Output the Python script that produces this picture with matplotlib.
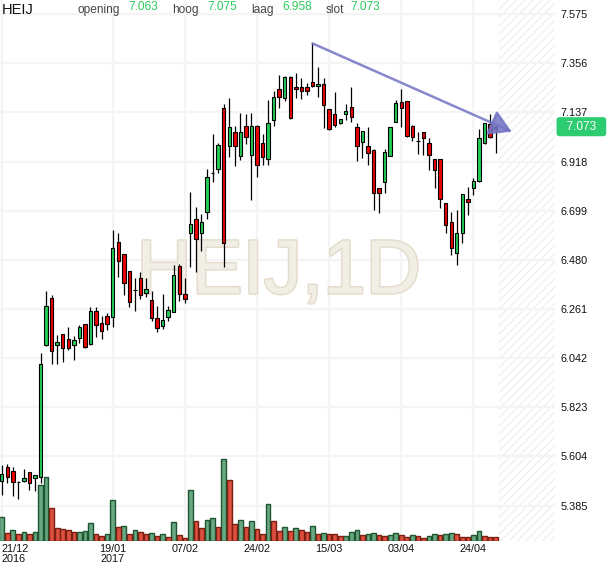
import matplotlib
matplotlib.use('Agg')
import matplotlib.pyplot as plt
import numpy as np
import pandas as pd
import matplotlib.patheffects as pe
from matplotlib.transforms import blended_transform_factory

# ---------------- data ----------------
symbol = 'HEIJ'
interval = '1D'
holidays = ['2016-12-26', '2017-04-14', '2017-04-17']
dates = pd.bdate_range('2016-12-21', '2017-04-28', freq='C', holidays=holidays)

opens = [5.496, 5.559, 5.538, 5.492, 5.496, 5.534, 5.507, 5.514, 6.099, 6.309,
         6.099, 6.148, 6.126, 6.099, 6.131, 6.193, 6.104, 6.251, 6.199, 6.229,
         6.227, 6.558, 6.505, 6.430, 6.346, 6.398, 6.331, 6.301, 6.220, 6.187,
         6.227, 6.249, 6.453, 6.327, 6.598, 6.661, 6.598, 6.694, 6.868, 6.883,
         7.155, 6.988, 7.048, 6.944, 7.077, 6.947, 7.077, 6.999, 6.929, 7.103,
         7.240, 7.200, 7.296, 7.249, 7.249, 7.249, 7.273, 7.254, 7.262, 7.151,
         7.128, 7.088, 7.128, 7.159, 7.070, 7.006, 6.987, 6.969, 6.799, 6.825,
         6.943, 7.095, 7.182, 7.186, 7.077, 7.010, 7.048, 6.999, 6.929, 6.929,
         6.732, 6.650, 6.509, 6.598, 6.751, 6.799, 6.829, 6.999, 7.085, 7.063]
highs = [5.566, 5.569, 5.559, 5.496, 5.547, 5.536, 5.521, 6.066, 6.341, 6.323,
         6.144, 6.150, 6.180, 6.141, 6.190, 6.195, 6.269, 6.269, 6.230, 6.245,
         6.613, 6.598, 6.507, 6.432, 6.398, 6.425, 6.398, 6.341, 6.276, 6.327,
         6.276, 6.457, 6.461, 6.398, 6.781, 6.714, 6.684, 6.883, 7.041, 6.999,
         7.173, 7.200, 7.077, 7.133, 7.128, 7.133, 7.080, 7.039, 7.192, 7.232,
         7.303, 7.298, 7.298, 7.311, 7.289, 7.266, 7.444, 7.340, 7.291, 7.153,
         7.226, 7.108, 7.173, 7.249, 7.088, 7.056, 7.073, 6.972, 6.801, 6.972,
         7.072, 7.192, 7.240, 7.188, 7.079, 7.048, 7.050, 7.021, 6.931, 6.931,
         6.734, 6.692, 6.702, 6.774, 6.806, 6.843, 7.061, 7.090, 7.130, 7.075]
lows = [5.432, 5.485, 5.428, 5.413, 5.491, 5.455, 5.452, 5.487, 6.095, 6.016,
        6.016, 6.026, 6.078, 6.034, 6.111, 6.088, 6.102, 6.138, 6.129, 6.168,
        6.182, 6.405, 6.323, 6.271, 6.254, 6.306, 6.316, 6.208, 6.160, 6.171,
        6.208, 6.247, 6.298, 6.286, 6.449, 6.425, 6.521, 6.662, 6.828, 6.868,
        6.449, 6.939, 6.899, 6.925, 6.996, 6.747, 6.850, 6.902, 6.902, 7.077,
        7.158, 7.189, 7.108, 7.202, 7.198, 7.213, 7.249, 7.207, 7.066, 7.059,
        7.073, 7.084, 7.103, 7.095, 6.922, 6.932, 6.902, 6.702, 6.690, 6.779,
        6.941, 7.093, 7.070, 7.026, 7.009, 6.951, 6.947, 6.880, 6.799, 6.710,
        6.598, 6.502, 6.457, 6.554, 6.680, 6.769, 6.827, 6.997, 7.024, 6.958]
closes = [5.526, 5.511, 5.489, 5.490, 5.507, 5.485, 5.520, 6.015, 6.274, 6.073,
          6.114, 6.089, 6.089, 6.122, 6.180, 6.090, 6.251, 6.188, 6.162, 6.193,
          6.531, 6.476, 6.376, 6.291, 6.344, 6.323, 6.349, 6.222, 6.175, 6.211,
          6.257, 6.413, 6.327, 6.306, 6.640, 6.572, 6.647, 6.848, 6.866, 6.992,
          6.554, 7.070, 6.988, 7.048, 7.028, 7.077, 6.902, 6.937, 7.088, 7.204,
          7.204, 7.296, 7.110, 7.240, 7.231, 7.231, 7.254, 7.262, 7.170, 7.061,
          7.081, 7.106, 7.143, 7.118, 6.988, 7.054, 6.955, 6.779, 6.776, 6.959,
          7.070, 7.177, 7.155, 7.033, 7.028, 7.008, 7.021, 6.947, 6.880, 6.751,
          6.635, 6.531, 6.598, 6.772, 6.736, 6.831, 7.021, 7.088, 7.026, 7.073]
volumes = [237, 77, 107, 67, 87, 67, 87, 560, 637, 330,
           130, 120, 107, 87, 87, 97, 177, 67, 47, 67,
           410, 140, 150, 67, 107, 87, 67, 77, 47, 67,
           40, 187, 57, 27, 507, 197, 130, 207, 227, 137,
           817, 610, 167, 207, 137, 197, 117, 67, 367, 197,
           97, 137, 97, 127, 107, 87, 147, 67, 77, 67,
           67, 47, 47, 87, 107, 57, 67, 77, 57, 47,
           57, 77, 57, 40, 57, 47, 27, 47, 67, 57,
           67, 77, 67, 40, 40, 57, 97, 47, 40, 40]
volume_up = [1, 0, 1, 0, 1, 0, 1, 1, 1, 0,
             0, 0, 0, 0, 1, 1, 1, 0, 0, 1,
             1, 0, 1, 0, 1, 0, 0, 1, 0, 1,
             0, 1, 0, 0, 1, 0, 0, 1, 1, 0,
             1, 0, 0, 1, 0, 1, 0, 0, 1, 0,
             0, 1, 0, 1, 0, 0, 1, 0, 1, 0,
             0, 0, 1, 1, 1, 0, 1, 1, 0, 0,
             1, 1, 0, 0, 1, 0, 0, 1, 1, 0,
             1, 1, 0, 0, 0, 1, 1, 0, 0, 0]
price_ticks = [7.575, 7.356, 7.137, 6.918, 6.699, 6.480, 6.261, 6.042, 5.823, 5.604, 5.385]
tick_dates = ['2016-12-21', '2017-01-19', '2017-02-07', '2017-02-24',
              '2017-03-15', '2017-04-03', '2017-04-24']
trend_bars = [56, 91.9]
trend_prices = [7.444, 7.051]
header_labels = ['opening', 'hoog', 'laag', 'slot']

# ---------------- style ----------------
W, H = 610, 568
plt.rcParams['font.family'] = ['Liberation Sans', 'DejaVu Sans']
plt.rcParams['hatch.linewidth'] = 1.0

GREEN = '#22cc55'
RED = '#ee0000'
VGREEN, VGREEN_E = '#68a882', '#1e5631'
VRED, VRED_E = '#dd5040', '#7a1f12'
GRID = '#f4f4f4'
TREND = '#7373c4'

fig = plt.figure(figsize=(W / 100, H / 100), dpi=100)
ax = fig.add_axes([0, 27 / H, 555 / W, 541 / H])
ax.set_facecolor('white')

n = len(closes)
x = np.arange(n)
o = np.array(opens); c = np.array(closes)
h = np.array(highs); l = np.array(lows)

x_left, x_right = -0.306, 99.7
y_bottom, y_top = 5.2276, 7.6374
ax.set_xlim(x_left, x_right)
ax.set_ylim(y_bottom, y_top)

# future (hatched) zone
ax.axvspan(n - 0.34, x_right, facecolor='white', edgecolor='#f0f0f0',
           hatch='////', lw=0, zorder=0.2)

# grid
for p in price_ticks:
    ax.axhline(p, color=GRID, lw=1.6, zorder=0.5)
tick_idx = [int(np.where(dates == pd.Timestamp(d))[0][0]) for d in tick_dates]
for t in tick_idx:
    ax.axvline(t, color=GRID, lw=1.6, zorder=0.5)

# watermark
ax.text(0.502, 0.458, f'{symbol},{interval}', transform=ax.transAxes,
        ha='center', va='baseline', fontsize=55, color='#f1eee5', zorder=0.8,
        path_effects=[pe.withStroke(linewidth=2.2, foreground='#e4ddcd')])

# volume bars (bottom of pane)
vol_max = 5410
trans = blended_transform_factory(ax.transData, ax.transAxes)
vol = np.array(volumes) / vol_max
vup = np.array(volume_up, dtype=bool)
ax.bar(x[vup], vol[vup], width=0.84, bottom=0, transform=trans,
       facecolor=VGREEN, edgecolor=VGREEN_E, lw=1.0, zorder=1)
ax.bar(x[~vup], vol[~vup], width=0.84, bottom=0, transform=trans,
       facecolor=VRED, edgecolor=VRED_E, lw=1.0, zorder=1)

# candles
up = c >= o
ax.vlines(x, l, h, color='black', lw=0.9, zorder=2)
body = np.where(np.abs(c - o) < 0.001, 0.001, c - o)
ax.bar(x, body, bottom=o, width=0.62,
       color=np.where(up, GREEN, RED), edgecolor='black', lw=0.8, zorder=3)

# trend line with arrow
ax.annotate('', xy=(trend_bars[1], trend_prices[1]), xytext=(trend_bars[0], trend_prices[0]),
            arrowprops=dict(arrowstyle='-|>,head_length=0.75,head_width=0.45', mutation_scale=18,
                            lw=1.8, color=TREND, alpha=0.85, shrinkA=0, shrinkB=0),
            zorder=4)

# axes styling
for s in ax.spines.values():
    s.set_visible(False)
ax.yaxis.tick_right()
ax.set_yticks(price_ticks)
ax.set_yticklabels([f'{p:.3f}' for p in price_ticks], fontsize=7.8, color='#111111')
ax.tick_params(axis='y', length=0, pad=4.2)

labels = []
for i, d in enumerate(tick_dates):
    ts = pd.Timestamp(d)
    lab = ts.strftime('%d/%m')
    if i == 0 or ts.year != pd.Timestamp(tick_dates[i - 1]).year:
        lab += '\n' + ts.strftime('%Y')
    labels.append(lab)
ax.set_xticks(tick_idx)
ax.set_xticklabels(labels, fontsize=7.8, color='#111111', linespacing=0.95, va='top')
ax.tick_params(axis='x', length=0, pad=2.5)
ax.get_xticklabels()[0].set_ha('left')
ax.get_xticklabels()[0].set_x(x_left)

# last price label on the right
ax.annotate(f'  {closes[-1]:.3f}  ', xy=(1.0, closes[-1]), xycoords=('axes fraction', 'data'),
            xytext=(19, 0), textcoords='offset points', ha='center', va='center',
            fontsize=8.5, color='white', annotation_clip=False,
            bbox=dict(boxstyle='round,pad=0.3,rounding_size=0.25', fc='#2ecc71', ec='none'))

# header
def fx(px):
    return px / W

def fy(py):
    return 1 - py / H

fig.text(fx(2), fy(13.5), symbol, fontsize=10.5, color='#111111', va='baseline')
values = [opens[-1], highs[-1], lows[-1], closes[-1]]
lab_x = [77, 172, 251, 326]
val_x = [128, 207, 282, 350]
for lab, v, lx, vx in zip(header_labels, values, lab_x, val_x):
    fig.text(fx(lx), fy(13), lab, fontsize=8.6, color='#444444', va='baseline')
    fig.text(fx(vx), fy(10), f'{v:.3f}', fontsize=8.6, color='#2bcc5a', va='baseline')

fig.savefig('out.png', dpi=100)
